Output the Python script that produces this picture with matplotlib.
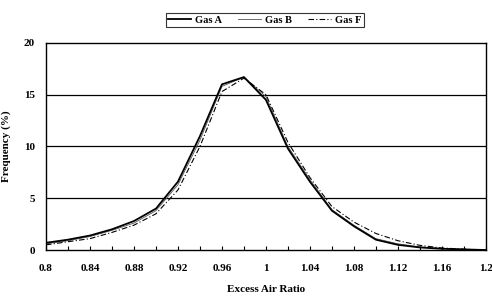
import matplotlib
matplotlib.use("Agg")
import matplotlib.pyplot as plt
from matplotlib.ticker import MultipleLocator

x = [0.80, 0.82, 0.84, 0.86, 0.88, 0.90, 0.92, 0.94, 0.96, 0.98, 1.00, 1.02, 1.04, 1.06, 1.08, 1.10, 1.12, 1.14, 1.16, 1.18, 1.20]
gas_a = [0.7, 1.0, 1.4, 2.0, 2.8, 4.0, 6.6, 11.0, 16.0, 16.7, 14.5, 9.8, 6.6, 3.8, 2.3, 1.0, 0.5, 0.25, 0.12, 0.06, 0.0]
gas_b = [0.6, 0.9, 1.3, 1.9, 2.6, 3.8, 6.3, 10.6, 15.8, 16.7, 14.8, 10.0, 6.8, 3.9, 2.4, 1.1, 0.6, 0.3, 0.15, 0.07, 0.0]
gas_f = [0.5, 0.8, 1.1, 1.7, 2.4, 3.5, 5.8, 10.0, 15.3, 16.6, 15.0, 10.4, 7.0, 4.2, 2.7, 1.6, 0.9, 0.45, 0.2, 0.08, 0.0]

xticks = [0.8, 0.84, 0.88, 0.92, 0.96, 1.0, 1.04, 1.08, 1.12, 1.16, 1.2]
xticklabels = ["0.8", "0.84", "0.88", "0.92", "0.96", "1", "1.04", "1.08", "1.12", "1.16", "1.2"]
yticks = [0, 5, 10, 15, 20]

plt.rcParams['font.family'] = ['Liberation Serif', 'DejaVu Serif']
plt.rcParams['font.weight'] = 'bold'

fig = plt.figure(figsize=(4.92, 2.98), dpi=100)
ax = fig.add_axes([0.0935, 0.161, 0.894, 0.695])

for yv in [5, 10, 15]:
    ax.axhline(yv, color='black', lw=0.9, zorder=1)

la, = ax.plot(x, gas_a, color='black', lw=1.3, label='Gas A', zorder=3)
lb, = ax.plot(x, gas_b, color='#555555', lw=0.6, label='Gas B', zorder=2)
lf, = ax.plot(x, gas_f, color='black', lw=0.8, ls=(0, (5, 2, 1, 2)), label='Gas F', zorder=2)

ax.set_xlim(0.8, 1.2)
ax.set_ylim(0, 20)
ax.set_xticks(xticks)
ax.set_xticklabels(xticklabels)
ax.set_yticks(yticks)
ax.xaxis.set_minor_locator(MultipleLocator(0.02))
ax.tick_params(axis='x', which='both', direction='in', length=3, width=0.8, pad=10)
ax.tick_params(axis='y', which='both', length=0, pad=8)
for lab in ax.get_xticklabels() + ax.get_yticklabels():
    lab.set_fontsize(8)
    lab.set_fontweight('bold')
for sp in ax.spines.values():
    sp.set_linewidth(1.0)
    sp.set_color('black')

ax.set_xlabel("Excess Air Ratio", fontsize=8, fontweight='bold', labelpad=9)
ax.set_ylabel("Frequency (%)", fontsize=8, fontweight='bold', labelpad=9)

leg = fig.legend(handles=[la, lb, lf], loc='upper center', bbox_to_anchor=(0.538, 0.975),
                 ncol=3, fontsize=7.5, frameon=True, fancybox=False, edgecolor='black',
                 handlelength=2.2, columnspacing=1.5, borderpad=0.25, handletextpad=0.4)
leg.get_frame().set_linewidth(0.8)
for t in leg.get_texts():
    t.set_fontweight('bold')

fig.savefig("out.png", dpi=100)
